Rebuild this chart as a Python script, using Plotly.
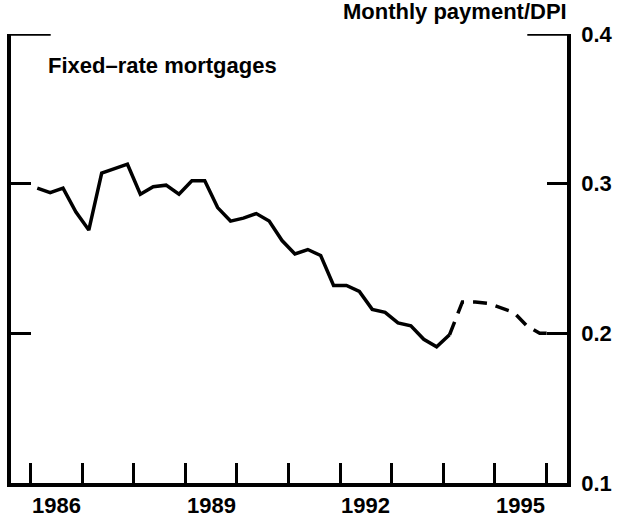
import plotly.graph_objects as go

# Quarterly monthly-payment-to-disposable-income ratio, fixed-rate mortgages
quarters = [
    "1986Q1", "1986Q2", "1986Q3", "1986Q4",
    "1987Q1", "1987Q2", "1987Q3", "1987Q4",
    "1988Q1", "1988Q2", "1988Q3", "1988Q4",
    "1989Q1", "1989Q2", "1989Q3", "1989Q4",
    "1990Q1", "1990Q2", "1990Q3", "1990Q4",
    "1991Q1", "1991Q2", "1991Q3", "1991Q4",
    "1992Q1", "1992Q2", "1992Q3", "1992Q4",
    "1993Q1", "1993Q2", "1993Q3", "1993Q4",
    "1994Q1", "1994Q2", "1994Q3", "1994Q4",
    "1995Q1", "1995Q2", "1995Q3", "1995Q4",
    "1996Q1",
]
ratio = [
    0.297, 0.294, 0.297, 0.281,
    0.269, 0.307, 0.310, 0.313,
    0.293, 0.298, 0.299, 0.293,
    0.302, 0.302, 0.284, 0.275,
    0.277, 0.280, 0.275, 0.262,
    0.253, 0.256, 0.252, 0.232,
    0.232, 0.228, 0.216, 0.214,
    0.207, 0.205, 0.196, 0.191,
    0.199, 0.221, 0.221, 0.220,
    0.217, 0.214, 0.205, 0.200,
    0.200,
]
last_actual = "1994Q1"  # later quarters are projected (dashed)

tick_years = list(range(1986, 1997))
label_years = [1986, 1989, 1992, 1995]
y_ticks = [0.1, 0.2, 0.3, 0.4]
y_labels = ["0.1", "0.2", "0.3", "0.4"]


def to_year(q):
    yr, qn = q.split("Q")
    return int(yr) + (int(qn) - 0.5) / 4


x_all = [to_year(q) for q in quarters]
split = quarters.index(last_actual)

FONT = "Liberation Sans, Arial, sans-serif"
INK = "#000000"
TEXT = dict(family=FONT, size=22, color=INK, weight="bold")

fig = go.Figure()
fig.add_trace(go.Scatter(
    x=x_all[:split + 1], y=ratio[:split + 1], mode="lines",
    line=dict(color=INK, width=3.5), hoverinfo="skip", showlegend=False,
))
fig.add_trace(go.Scatter(
    x=x_all[split:], y=ratio[split:], mode="lines",
    line=dict(color=INK, width=3.5, dash="14px,9px"), hoverinfo="skip",
    showlegend=False,
))

fig.update_layout(
    width=628, height=520,
    margin=dict(l=7, r=61, t=34, b=37),
    paper_bgcolor="white", plot_bgcolor="white",
    font=TEXT,
    xaxis=dict(
        range=[1985.615, 1996.405], showgrid=False, zeroline=False,
        showline=True, linecolor=INK, linewidth=3.5,
        ticks="inside", ticklen=20, tickwidth=3, tickcolor=INK,
        tickvals=tick_years, showticklabels=False,
    ),
    yaxis=dict(
        range=[0.1, 0.4], side="right", showgrid=False, zeroline=False,
        showline=True, linecolor=INK, linewidth=3.5, mirror="ticks",
        ticks="inside", ticklen=20, tickwidth=3, tickcolor=INK,
        tickvals=y_ticks, ticktext=y_labels, tickfont=TEXT,
        ticklabelstandoff=6,
    ),
)

# Longer marks closing the top corners of the frame
for x0, x1 in [(0, 0.0714), (0.9286, 1)]:
    fig.add_shape(type="line", xref="paper", yref="y", x0=x0, x1=x1,
                  y0=0.4, y1=0.4, line=dict(color=INK, width=3.5))

# Year labels centred on each labelled year
for yr in label_years:
    fig.add_annotation(x=yr + 0.5, y=0, xref="x", yref="paper",
                       text=str(yr), showarrow=False, yanchor="top",
                       yshift=-8, font=TEXT)

fig.add_annotation(x=1.003, y=1, xref="paper", yref="paper",
                   text="Monthly payment/DPI", showarrow=False,
                   xanchor="right", yanchor="bottom", yshift=8, font=TEXT)
fig.add_annotation(x=0.0714, y=0.379, xref="paper", yref="y",
                   text="Fixed\u2013rate mortgages", showarrow=False,
                   xanchor="left", yanchor="middle", xshift=-5, font=TEXT)

fig.write_html("out.html")
